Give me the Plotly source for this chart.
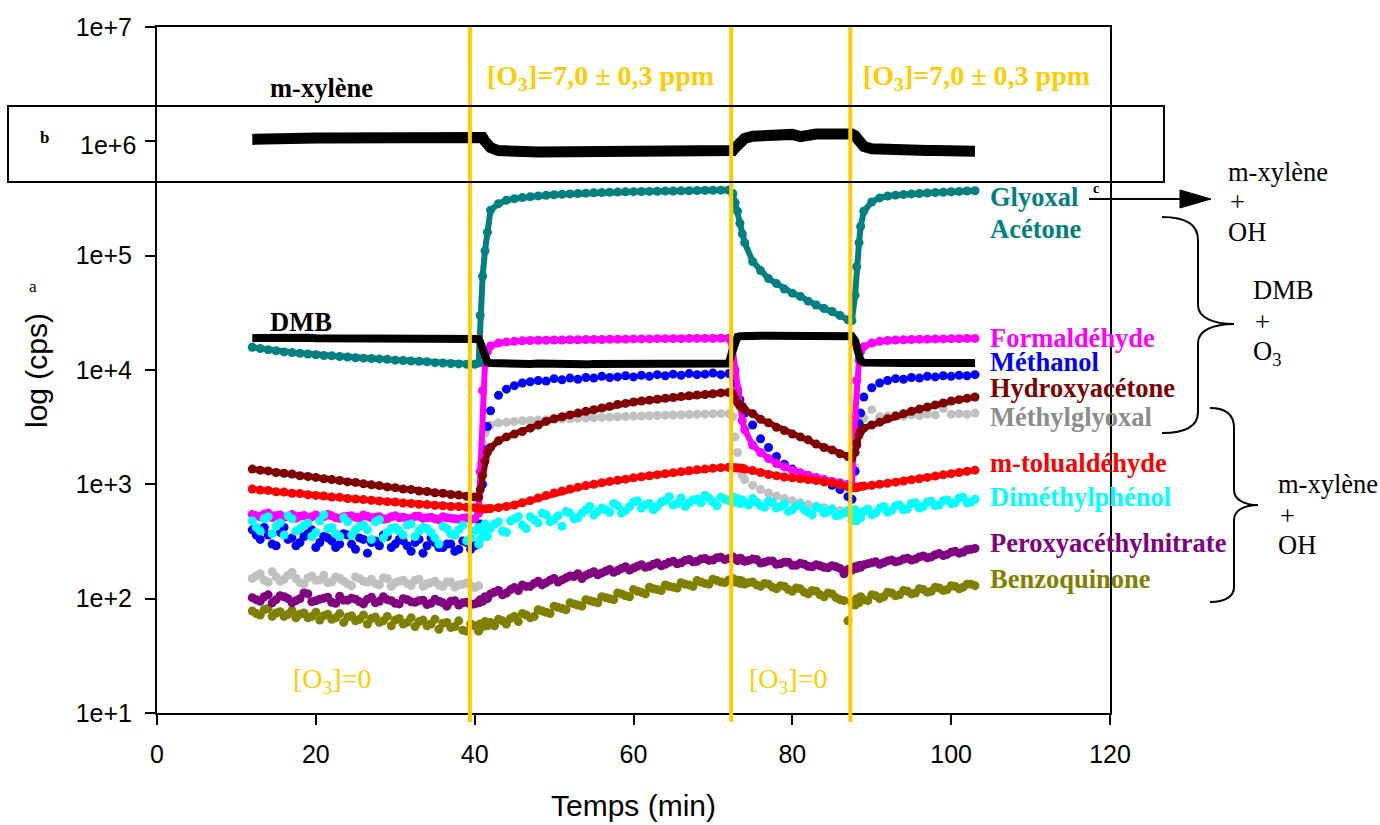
import plotly.graph_objects as go

# ---------------- data ----------------
temps = [12, 13, 14, 15, 16, 17, 18, 19, 20, 21, 22, 23, 24, 25, 26, 27, 28, 29, 30, 31, 32, 33, 34, 35, 36, 37, 38, 39, 40,
         40.5, 40.7, 41, 41.3, 41.6,
         42, 43, 44, 45, 46, 47, 48, 49, 50, 51, 52, 53, 54, 55, 56, 57, 58, 59, 60, 61, 62, 63, 64, 65, 66, 67, 68, 69, 70, 71, 72,
         72.5, 72.8, 73.1, 73.4, 73.7,
         74, 75, 76, 77, 78, 79, 80, 81, 82, 83, 84, 85, 86, 87,
         87.5, 87.9, 88.1, 88.4, 88.6,
         89, 90, 91, 92, 93, 94, 95, 96, 97, 98, 99, 100, 101, 102, 103]

# intermediate sampling times for the noisy signals
temps_mid = [12.5, 13.5, 14.5, 15.5, 16.5, 17.5, 18.5, 19.5, 20.5, 21.5, 22.5, 23.5, 24.5, 25.5, 26.5, 27.5, 28.5,
             29.5, 30.5, 31.5, 32.5, 33.5, 34.5, 35.5, 36.5, 37.5, 38.5, 39.5,
             40.5, 41.5, 42.5, 43.5, 44.5, 45.5, 46.5, 47.5, 48.5, 49.5, 50.5, 51.5, 52.5, 53.5, 54.5, 55.5, 56.5,
             57.5, 58.5, 59.5, 60.5, 61.5, 62.5, 63.5, 64.5, 65.5, 66.5, 67.5, 68.5, 69.5, 70.5, 71.5, 72.5,
             73.5, 74.5, 75.5, 76.5, 77.5, 78.5, 79.5, 80.5, 81.5, 82.5, 83.5, 84.5, 85.5, 86.5, 87.5,
             88.5, 89.5, 90.5, 91.5, 92.5, 93.5, 94.5, 95.5, 96.5, 97.5, 98.5, 99.5, 100.5, 101.5, 102.5]
temps_mid_before_o3 = temps_mid[:28]

m_xylene = [1.04e6, 1.05e6, 1.05e6, 1.05e6, 1.06e6, 1.06e6, 1.06e6, 1.07e6, 1.07e6, 1.07e6,
            1.07e6, 1.08e6, 1.08e6, 1.08e6, 1.08e6, 1.09e6, 1.09e6, 1.09e6, 1.09e6, 1.10e6,
            1.10e6, 1.10e6, 1.11e6, 1.11e6, 1.12e6, 1.13e6, 1.13e6, 1.12e6, 1.12e6,
            1.12e6, 1.12e6, 1.08e6, 1.0e6, 0.94e6,
            0.88e6, 0.83e6, 0.815e6, 0.81e6, 0.81e6, 0.81e6, 0.805e6, 0.805e6, 0.80e6, 0.80e6,
            0.80e6, 0.80e6, 0.80e6, 0.80e6, 0.80e6, 0.795e6, 0.795e6, 0.795e6, 0.795e6, 0.795e6,
            0.79e6, 0.79e6, 0.79e6, 0.79e6, 0.79e6, 0.79e6, 0.79e6, 0.79e6, 0.79e6, 0.79e6, 0.80e6,
            0.83e6, 0.88e6, 0.93e6, 0.98e6, 1.02e6,
            1.06e6, 1.11e6, 1.13e6, 1.14e6, 1.14e6, 1.15e6, 1.15e6, 1.10e6, 1.15e6, 1.16e6, 1.16e6, 1.17e6, 1.17e6, 1.17e6,
            1.16e6, 1.12e6, 1.06e6, 0.98e6, 0.94e6,
            0.90e6, 0.86e6, 0.85e6, 0.84e6, 0.84e6, 0.84e6, 0.835e6, 0.83e6, 0.83e6, 0.83e6,
            0.825e6, 0.82e6, 0.82e6, 0.82e6, 0.82e6]

dmb = [1.90e4, 1.91e4, 1.90e4, 1.90e4, 1.91e4, 1.90e4, 1.90e4, 1.91e4, 1.90e4, 1.90e4,
       1.91e4, 1.90e4, 1.90e4, 1.91e4, 1.90e4, 1.90e4, 1.91e4, 1.90e4, 1.90e4, 1.91e4,
       1.90e4, 1.90e4, 1.91e4, 1.90e4, 1.90e4, 1.91e4, 1.90e4, 1.90e4, 1.89e4,
       1.87e4, 1.75e4, 1.45e4, 1.25e4, 1.17e4,
       1.15e4, 1.14e4, 1.14e4, 1.14e4, 1.13e4, 1.13e4, 1.14e4, 1.13e4, 1.13e4, 1.13e4,
       1.13e4, 1.13e4, 1.12e4, 1.13e4, 1.13e4, 1.12e4, 1.12e4, 1.13e4, 1.12e4, 1.12e4,
       1.12e4, 1.12e4, 1.13e4, 1.12e4, 1.12e4, 1.12e4, 1.13e4, 1.12e4, 1.12e4, 1.13e4, 1.14e4,
       1.5e4, 1.85e4, 1.95e4, 1.97e4, 1.98e4,
       1.98e4, 1.98e4, 1.99e4, 1.99e4, 1.99e4, 2.0e4, 2.0e4, 2.0e4, 2.0e4, 2.0e4, 2.0e4, 2.0e4, 2.0e4, 2.0e4,
       1.97e4, 1.8e4, 1.55e4, 1.3e4, 1.2e4,
       1.16e4, 1.15e4, 1.15e4, 1.15e4, 1.15e4, 1.15e4, 1.15e4, 1.15e4, 1.15e4, 1.15e4,
       1.15e4, 1.15e4, 1.15e4, 1.15e4, 1.15e4]

glyoxal = [1.58e4, 1.54e4, 1.50e4, 1.47e4, 1.44e4, 1.42e4, 1.40e4, 1.38e4, 1.36e4, 1.34e4,
           1.33e4, 1.31e4, 1.30e4, 1.28e4, 1.27e4, 1.26e4, 1.25e4, 1.24e4, 1.22e4, 1.21e4,
           1.20e4, 1.19e4, 1.18e4, 1.16e4, 1.15e4, 1.14e4, 1.13e4, 1.12e4, 1.12e4,
           1.15e4, 3.0e4, 6.6e4, 1.1e5, 1.6e5,
           2.5e5, 2.85e5, 3.05e5, 3.15e5, 3.22e5, 3.28e5, 3.33e5, 3.37e5, 3.41e5, 3.44e5,
           3.47e5, 3.5e5, 3.52e5, 3.55e5, 3.57e5, 3.59e5, 3.6e5, 3.62e5, 3.63e5, 3.64e5,
           3.65e5, 3.66e5, 3.67e5, 3.68e5, 3.69e5, 3.7e5, 3.71e5, 3.72e5, 3.73e5, 3.74e5, 3.75e5,
           3.5e5, 2.9e5, 2.45e5, 1.92e5, 1.55e5,
           1.3e5, 8.9e4, 7.4e4, 6.3e4, 5.7e4, 5.1e4, 4.7e4, 4.4e4, 4.0e4, 3.7e4, 3.45e4, 3.25e4, 3.0e4, 2.75e4,
           2.7e4, 4.5e4, 8.0e4, 1.3e5, 1.8e5,
           2.45e5, 2.95e5, 3.2e5, 3.32e5, 3.38e5, 3.43e5, 3.47e5, 3.5e5, 3.53e5, 3.56e5,
           3.59e5, 3.62e5, 3.65e5, 3.68e5, 3.7e5]

formaldehyde = [545, 520, 560, 530, 515, 545, 525, 510, 540, 520,
                530, 505, 525, 515, 540, 510, 520, 500, 530, 515,
                505, 525, 510, 500, 520, 505, 495, 510, 500,
                560, 1.3e3, 6.6e3, 1.15e4, 1.45e4,
                1.62e4, 1.72e4, 1.76e4, 1.78e4, 1.8e4, 1.81e4, 1.82e4, 1.82e4, 1.83e4, 1.83e4,
                1.84e4, 1.84e4, 1.85e4, 1.85e4, 1.85e4, 1.86e4, 1.86e4, 1.86e4, 1.87e4, 1.87e4,
                1.87e4, 1.88e4, 1.88e4, 1.88e4, 1.88e4, 1.89e4, 1.89e4, 1.89e4, 1.89e4, 1.9e4, 1.9e4,
                1.5e4, 1.0e4, 6.8e3, 4.8e3, 3.6e3,
                3.0e3, 2.2e3, 1.9e3, 1.68e3, 1.52e3, 1.42e3, 1.33e3, 1.26e3, 1.2e3, 1.15e3, 1.1e3, 1.06e3, 1.03e3, 1.0e3,
                1.0e3, 3.9e3, 8.1e3, 1.22e4, 1.45e4,
                1.6e4, 1.72e4, 1.78e4, 1.81e4, 1.83e4, 1.84e4, 1.85e4, 1.86e4, 1.86e4, 1.87e4,
                1.87e4, 1.88e4, 1.88e4, 1.89e4, 1.89e4]
formaldehyde_mid = [530, 550, 510, 540, 525, 505, 535, 520, 515, 545, 510, 520, 530, 505,
                    525, 515, 495, 520, 510, 500, 525, 505, 515, 490, 510, 500, 505, 495]

methanol = [400, 330, 360, 290, 420, 340, 310, 370, 280, 350,
            320, 300, 360, 270, 330, 310, 290, 350, 300, 320,
            260, 330, 290, 310, 280, 300, 270, 310, 290,
            300, 450, 1.0e3, 2.0e3, 3.2e3,
            4.4e3, 6.0e3, 6.8e3, 7.3e3, 7.7e3, 7.9e3, 8.1e3, 8.0e3, 8.4e3, 8.2e3,
            8.5e3, 8.3e3, 8.6e3, 8.5e3, 8.8e3, 8.6e3, 8.7e3, 8.9e3, 8.7e3, 9.0e3,
            8.8e3, 9.1e3, 8.9e3, 9.2e3, 9.0e3, 9.3e3, 9.1e3, 9.2e3, 9.4e3, 9.1e3, 9.3e3,
            8.8e3, 7.6e3, 6.5e3, 5.5e3, 4.8e3,
            4.2e3, 3.3e3, 2.5e3, 2.1e3, 1.75e3, 1.5e3, 1.36e3, 1.25e3, 1.18e3, 1.1e3, 1.05e3, 980, 900, 780,
            740, 1.3e3, 2.2e3, 3.4e3, 4.2e3,
            5.8e3, 7.0e3, 7.7e3, 8.1e3, 8.4e3, 8.3e3, 8.6e3, 8.5e3, 8.8e3, 8.7e3,
            8.9e3, 8.8e3, 9.0e3, 8.9e3, 9.1e3]
methanol_mid = [360, 420, 300, 380, 330, 290, 350, 400, 310, 340, 280, 370, 300, 340,
                250, 320, 360, 280, 330, 290, 310, 250, 340, 280, 300, 260, 320, 270]

hydroxyacetone = [1.36e3, 1.33e3, 1.31e3, 1.27e3, 1.25e3, 1.23e3, 1.19e3, 1.17e3, 1.15e3, 1.12e3,
                  1.10e3, 1.08e3, 1.05e3, 1.04e3, 1.01e3, 990, 975, 950, 935, 910,
                  900, 875, 865, 845, 835, 815, 805, 785, 775,
                  770, 900, 1.2e3, 1.6e3, 1.9e3,
                  2.1e3, 2.4e3, 2.6e3, 2.75e3, 2.9e3, 3.1e3, 3.3e3, 3.55e3, 3.75e3, 3.9e3,
                  4.05e3, 4.2e3, 4.35e3, 4.5e3, 4.65e3, 4.8e3, 5.0e3, 5.1e3, 5.25e3, 5.35e3,
                  5.45e3, 5.55e3, 5.65e3, 5.75e3, 5.85e3, 5.95e3, 6.05e3, 6.1e3, 6.2e3, 6.3e3, 6.35e3,
                  6.2e3, 5.6e3, 5.2e3, 4.9e3, 4.7e3,
                  4.5e3, 4.15e3, 3.7e3, 3.45e3, 3.15e3, 2.95e3, 2.75e3, 2.6e3, 2.45e3, 2.25e3, 2.1e3, 2.0e3, 1.85e3, 1.75e3,
                  1.7e3, 1.9e3, 2.3e3, 2.7e3, 2.9e3,
                  3.1e3, 3.3e3, 3.5e3, 3.75e3, 3.95e3, 4.15e3, 4.35e3, 4.55e3, 4.75e3, 4.95e3,
                  5.15e3, 5.35e3, 5.5e3, 5.65e3, 5.8e3]

methylglyoxal = [150, 165, 140, 155, 148, 170, 138, 152, 145, 160,
                 140, 150, 135, 155, 142, 148, 132, 150, 138, 145,
                 130, 148, 135, 142, 128, 140, 132, 138, 125,
                 130, 1.5e3, 2.3e3, 2.8e3, 3.1e3,
                 3.3e3, 3.45e3, 3.5e3, 3.55e3, 3.6e3, 3.62e3, 3.65e3, 3.68e3, 3.7e3, 3.72e3,
                 3.75e3, 3.78e3, 3.8e3, 3.82e3, 3.85e3, 3.87e3, 3.9e3, 3.92e3, 3.95e3, 3.96e3,
                 3.98e3, 4.0e3, 4.02e3, 4.04e3, 4.06e3, 4.08e3, 4.1e3, 4.12e3, 4.14e3, 4.15e3, 4.15e3,
                 3.9e3, 2.6e3, 1.9e3, 1.4e3, 1.2e3,
                 1.1e3, 980, 900, 840, 790, 750, 720, 690, 665, 645, 625, 610, 590, 575,
                 580, 1.4e3, 2.6e3, 3.3e3, 3.6e3,
                 3.8e3, 4.5e3, 3.9e3, 3.95e3, 4.0e3, 3.95e3, 4.05e3, 4.0e3, 4.1e3, 4.05e3,
                 4.6e3, 4.1e3, 4.15e3, 4.1e3, 4.2e3]
methylglyoxal_mid = [158, 145, 172, 142, 160, 150, 135, 158, 146, 138, 155, 142, 130, 150,
                     140, 136, 152, 128, 142, 136, 145, 128, 138, 132, 140, 126, 134, 130]

m_tolualdehyde = [910, 890, 885, 860, 855, 835, 830, 810, 800, 790,
                  775, 770, 750, 745, 735, 725, 715, 705, 700, 685,
                  680, 670, 665, 655, 650, 640, 640, 630, 625,
                  615, 612, 610, 610, 612,
                  615, 625, 640, 660, 690, 720, 760, 800, 840, 875,
                  910, 945, 975, 1000, 1030, 1060, 1085, 1110, 1140, 1165,
                  1190, 1215, 1240, 1265, 1290, 1315, 1340, 1360, 1380, 1400, 1410,
                  1400, 1395, 1390, 1385, 1380,
                  1360, 1320, 1270, 1220, 1190, 1160, 1140, 1120, 1100, 1080, 1055, 1030, 990, 950,
                  930, 935, 940, 950, 955,
                  965, 980, 1000, 1020, 1045, 1070, 1095, 1120, 1150, 1180,
                  1210, 1240, 1270, 1300, 1330]

dimethylphenol = [480, 390, 520, 430, 360, 500, 410, 460, 380, 540,
                  420, 350, 470, 400, 440, 330, 490, 380, 420, 360,
                  450, 390, 410, 340, 430, 370, 400, 320, 390,
                  420, 330, 380, 450, 350,
                  410, 470, 380, 500, 440, 520, 460, 540, 490, 430,
                  560, 510, 600, 540, 620, 570, 650, 590, 700, 620,
                  680, 640, 720, 660, 760, 690, 740, 800, 700, 770, 720,
                  780, 700, 750, 680, 730,
                  690, 750, 650, 710, 620, 680, 600, 660, 570, 630, 560, 610, 540, 590,
                  520, 600, 480, 560, 510,
                  580, 540, 620, 570, 650, 600, 680, 620, 700, 650,
                  720, 680, 760, 690, 740]
dimethylphenol_mid = [420, 500, 370, 460, 530, 390, 440, 350, 480, 410, 370, 510, 360, 430,
                      400, 470, 340, 410, 390, 440, 350, 420, 380, 300, 410, 360, 440, 340,
                      300, 420, 450, 390, 480, 520, 410, 490, 560, 470, 530, 580, 500, 560, 640,
                      580, 600, 680, 560, 640, 720, 660, 600, 700, 780, 680, 640, 730, 690, 760,
                      650, 740, 700,
                      720, 660, 700, 630, 690, 640, 580, 650, 600, 540, 620, 580, 530, 560, 480,
                      540, 610, 560, 640, 590, 660, 610, 690, 640, 710, 660, 730, 690, 770, 700]

peroxyacetylnitrate = [102, 95, 108, 98, 104, 92, 100, 110, 96, 101,
                       93, 105, 97, 99, 90, 103, 95, 98, 91, 100,
                       94, 96, 89, 99, 92, 95, 88, 93, 90,
                       92, 98, 95, 104, 100,
                       110, 118, 112, 125, 132, 128, 142, 138, 150, 146,
                       158, 165, 160, 172, 168, 180, 176, 190, 185, 198,
                       192, 205, 200, 212, 206, 220, 212, 225, 218, 230, 224,
                       230, 222, 215, 226, 218,
                       212, 222, 205, 214, 200, 208, 196, 204, 192, 198, 188, 194, 184, 180,
                       178, 190, 184, 195, 188,
                       198, 206, 200, 214, 210, 222, 218, 232, 228, 242,
                       238, 255, 250, 268, 275]
peroxyacetylnitrate_mid = [98, 104, 92, 106, 100, 96, 112, 94, 99, 103, 91, 97, 101, 94,
                           99, 92, 104, 96, 90, 98, 93, 97, 91, 95, 86, 96, 92, 89,
                           94, 102, 114, 108, 120, 118, 128, 136, 132, 145, 140, 152, 156, 150, 166,
                           162, 174, 170, 184, 178, 192, 188, 200, 194, 208, 202, 216, 210, 222, 216,
                           228, 220, 232,
                           224, 216, 220, 208, 214, 202, 208, 196, 200, 190, 194, 186, 190, 165, 182,
                           194, 202, 210, 206, 218, 214, 226, 222, 236, 232, 248, 244, 260, 256, 270]

benzoquinone = [78, 72, 82, 75, 70, 79, 73, 68, 76, 71,
                66, 74, 69, 64, 72, 67, 62, 70, 65, 60,
                68, 63, 58, 66, 61, 56, 64, 52, 58,
                52, 60, 57, 63, 58,
                62, 66, 60, 70, 74, 68, 80, 76, 86, 82,
                92, 88, 98, 94, 104, 100, 112, 106, 120, 114,
                126, 120, 132, 126, 138, 132, 144, 136, 148, 140, 146,
                150, 140, 145, 136, 142,
                134, 140, 128, 134, 122, 128, 116, 122, 110, 116, 104, 110, 98, 64,
                95, 88, 100, 92, 104,
                98, 108, 100, 114, 106, 118, 110, 122, 114, 126,
                118, 130, 122, 134, 130]
benzoquinone_mid = [74, 80, 70, 77, 73, 68, 75, 70, 65, 73, 68, 62, 71, 66,
                    60, 69, 64, 58, 67, 62, 57, 65, 60, 54, 62, 57, 53, 60,
                    55, 62, 58, 64, 67, 63, 72, 70, 78, 74, 84, 80, 90, 86, 96,
                    92, 102, 98, 110, 104, 116, 110, 122, 118, 128, 124, 134, 128, 140, 134,
                    144, 138, 148,
                    144, 138, 132, 136, 126, 130, 120, 124, 114, 118, 108, 112, 102, 96, 92,
                    102, 96, 106, 104, 112, 108, 116, 112, 120, 116, 124, 120, 128, 126, 134]

ozone_switch_times = [39.4, 72.3, 87.3]
x_ticks = [0, 20, 40, 60, 80, 100, 120]
y_ticks = [1e1, 1e2, 1e3, 1e4, 1e5, 1e6, 1e7]
y_ticktext = ["1e+1", "1e+2", "1e+3", "1e+4", "1e+5", "", "1e+7"]

for name, s, tt in [("m_xylene", m_xylene, temps), ("dmb", dmb, temps), ("glyoxal", glyoxal, temps),
                    ("formaldehyde", formaldehyde, temps), ("methanol", methanol, temps),
                    ("hydroxyacetone", hydroxyacetone, temps), ("methylglyoxal", methylglyoxal, temps),
                    ("m_tolualdehyde", m_tolualdehyde, temps), ("dimethylphenol", dimethylphenol, temps),
                    ("peroxyacetylnitrate", peroxyacetylnitrate, temps), ("benzoquinone", benzoquinone, temps),
                    ("formaldehyde_mid", formaldehyde_mid, temps_mid_before_o3),
                    ("methanol_mid", methanol_mid, temps_mid_before_o3),
                    ("methylglyoxal_mid", methylglyoxal_mid, temps_mid_before_o3),
                    ("dimethylphenol_mid", dimethylphenol_mid, temps_mid),
                    ("peroxyacetylnitrate_mid", peroxyacetylnitrate_mid, temps_mid),
                    ("benzoquinone_mid", benzoquinone_mid, temps_mid)]:
    if len(s) != len(tt):
        raise ValueError(f"{name}: {len(s)} values vs {len(tt)} times")

# ---------------- geometry helpers (pixel -> paper) ----------------
W, H = 1380, 825
PL, PR, PT, PB = 157, 1110, 27, 713


def fx(x):
    return (x - PL) / (PR - PL)


def fy(y):
    return (PB - y) / (PB - PT)


SERIF = "Liberation Serif, Times New Roman, serif"
SANS = "Liberation Sans, Arial, sans-serif"
YELLOW = "#FFCC00"
MS = 9

fig = go.Figure()


def dots(x, y, col, name, line=None):
    fig.add_trace(go.Scatter(x=x, y=y, mode="lines+markers" if line else "markers", name=name,
                             line=dict(color=col, width=line or 1),
                             marker=dict(color=col, size=MS, line=dict(width=0))))


dots(temps, methylglyoxal, "#C0C0C0", "Méthylglyoxal")
dots(temps_mid_before_o3, methylglyoxal_mid, "#C0C0C0", "Méthylglyoxal")
dots(temps, benzoquinone, "#808000", "Benzoquinone")
dots(temps_mid, benzoquinone_mid, "#808000", "Benzoquinone")
dots(temps, peroxyacetylnitrate, "#800080", "Peroxyacéthylnitrate")
dots(temps_mid, peroxyacetylnitrate_mid, "#800080", "Peroxyacéthylnitrate")
dots(temps, methanol, "#0000FF", "Méthanol")
dots(temps_mid_before_o3, methanol_mid, "#0000FF", "Méthanol")
dots(temps, formaldehyde, "#FF00FF", "Formaldéhyde", line=6)
dots(temps_mid_before_o3, formaldehyde_mid, "#FF00FF", "Formaldéhyde")
dots(temps, dimethylphenol, "#00FFFF", "Diméthylphénol")
dots(temps_mid, dimethylphenol_mid, "#00FFFF", "Diméthylphénol")
dots(temps, m_tolualdehyde, "#FF0000", "m-tolualdéhyde", line=6)
dots(temps, hydroxyacetone, "#800000", "Hydroxyacétone", line=6)
dots(temps, glyoxal, "#008080", "Glyoxal", line=6)

fig.add_trace(go.Scatter(x=temps, y=dmb, mode="lines", name="DMB",
                         line=dict(color="black", width=8)))
fig.add_trace(go.Scatter(x=temps, y=m_xylene, mode="lines", name="m-xylène",
                         line=dict(color="black", width=11)))

shapes = []
for xv in ozone_switch_times:
    shapes.append(dict(type="line", xref="x", yref="paper", x0=xv, x1=xv, y0=fy(722), y1=1.0,
                       line=dict(color=YELLOW, width=4)))
# box around m-xylene
shapes.append(dict(type="rect", xref="paper", yref="paper", x0=fx(8), x1=fx(1164), y0=fy(182), y1=fy(106),
                   line=dict(color="black", width=2)))
# arrow
shapes.append(dict(type="line", xref="paper", yref="paper", x0=fx(1089), x1=fx(1184), y0=fy(199), y1=fy(199),
                   line=dict(color="black", width=2)))


def path(points_cmds):
    out = []
    for cmd, pts in points_cmds:
        coords = " ".join(f"{fx(a):.5f},{fy(b):.5f}" for a, b in pts)
        out.append(f"{cmd} {coords}")
    return " ".join(out)


shapes.append(dict(type="path", xref="paper", yref="paper",
                   path=path([("M", [(1180, 190)]), ("L", [(1211, 199)]), ("L", [(1180, 208)])]) + " Z",
                   fillcolor="black", line=dict(color="black", width=1)))
# braces
brace1 = path([("M", [(1162, 217)]), ("C", [(1185, 217), (1198, 224), (1198, 240)]), ("L", [(1198, 305)]),
               ("C", [(1198, 318), (1214, 324), (1234, 324)]), ("C", [(1214, 324), (1198, 330), (1198, 343)]),
               ("L", [(1198, 412)]), ("C", [(1198, 426), (1185, 433), (1162, 433)])])
brace2 = path([("M", [(1210, 408)]), ("C", [(1226, 408), (1234, 415), (1234, 428)]), ("L", [(1234, 490)]),
               ("C", [(1234, 500), (1245, 505), (1258, 505)]), ("C", [(1245, 505), (1234, 510), (1234, 520)]),
               ("L", [(1234, 587)]), ("C", [(1234, 596), (1226, 602), (1210, 602)])])
for b in (brace1, brace2):
    shapes.append(dict(type="path", xref="paper", yref="paper", path=b, line=dict(color="black", width=2)))

ann = []


def text(s, x, y, size=26, color="black", family=SERIF, xanchor="left", angle=0):
    ann.append(dict(text=s, x=fx(x), y=fy(y), xref="paper", yref="paper", showarrow=False,
                    xanchor=xanchor, yanchor="middle", textangle=angle,
                    font=dict(family=family, size=size, color=color)))


text("<b>[O<sub>3</sub>]=7,0 ± 0,3 ppm</b>", 485, 78, 28, YELLOW)
text("<b>[O<sub>3</sub>]=7,0 ± 0,3 ppm</b>", 861, 78, 28, YELLOW)
text("[O<sub>3</sub>]=0", 291, 680, 28, YELLOW)
text("[O<sub>3</sub>]=0", 747, 680, 28, YELLOW)
text("<b>m-xylène</b>", 268, 88, 26.5)
text("<b>DMB</b>", 268, 322, 26.5)

labels = [("Glyoxal", 197, "#008080"), ("Acétone", 229, "#008080"), ("Formaldéhyde", 338, "#FF00FF"),
          ("Méthanol", 362, "#0000FF"), ("Hydroxyacétone", 388, "#800000"), ("Méthylglyoxal", 417, "#8C8C8C"),
          ("m-tolualdéhyde", 463, "#FF0000"), ("Diméthylphénol", 497, "#00FFFF"),
          ("Peroxyacéthylnitrate", 543, "#800080"), ("Benzoquinone", 579, "#808000")]
for s, yy, col in labels:
    text(f"<b>{s}</b>", 988, yy, 26.5, col)

text("<b>c</b>", 1091, 188, 14)
text("m-xylène", 1226, 172, 26.5)
text("+", 1228, 202, 26.5)
text("OH", 1226, 232, 26.5)
text("DMB", 1251, 290, 26.5)
text("+", 1253, 322, 26.5)
text("O<sub>3</sub>", 1251, 353, 26.5)
text("m-xylène", 1276, 484, 26.5)
text("+", 1278, 516, 26.5)
text("OH", 1276, 545, 26.5)
text("a", 33, 286, 17, xanchor="center")
text("<b>b</b>", 38, 137, 17)
text("1e+6", 138, 145, 25, family=SANS, xanchor="right")
text("log (cps)", 36, 371, 30, family=SANS, xanchor="center", angle=-90)
text("Temps (min)", 633, 805, 30, family=SANS, xanchor="center")

fig.update_layout(
    width=W, height=H,
    margin=dict(l=PL, r=W - PR, t=PT, b=H - PB),
    paper_bgcolor="white", plot_bgcolor="white",
    showlegend=False,
    shapes=shapes, annotations=ann,
    xaxis=dict(range=[0, 120], tickvals=x_ticks, ticks="outside", ticklen=10, tickwidth=1.5,
               tickcolor="black", showline=True, linecolor="black", linewidth=2, mirror=True,
               showgrid=False, zeroline=False, tickfont=dict(family=SANS, size=25, color="black"),
               ticklabelstandoff=8),
    yaxis=dict(type="log", range=[1, 7], tickvals=y_ticks, ticktext=y_ticktext, ticks="outside",
               ticklen=10, tickwidth=1.5, tickcolor="black", showline=True, linecolor="black",
               linewidth=2, mirror=True, showgrid=False, zeroline=False,
               tickfont=dict(family=SANS, size=25, color="black"), ticklabelstandoff=8),
)

fig.write_html("out.html", config={"displayModeBar": False},
               post_script="document.body.style.margin='0px';")
